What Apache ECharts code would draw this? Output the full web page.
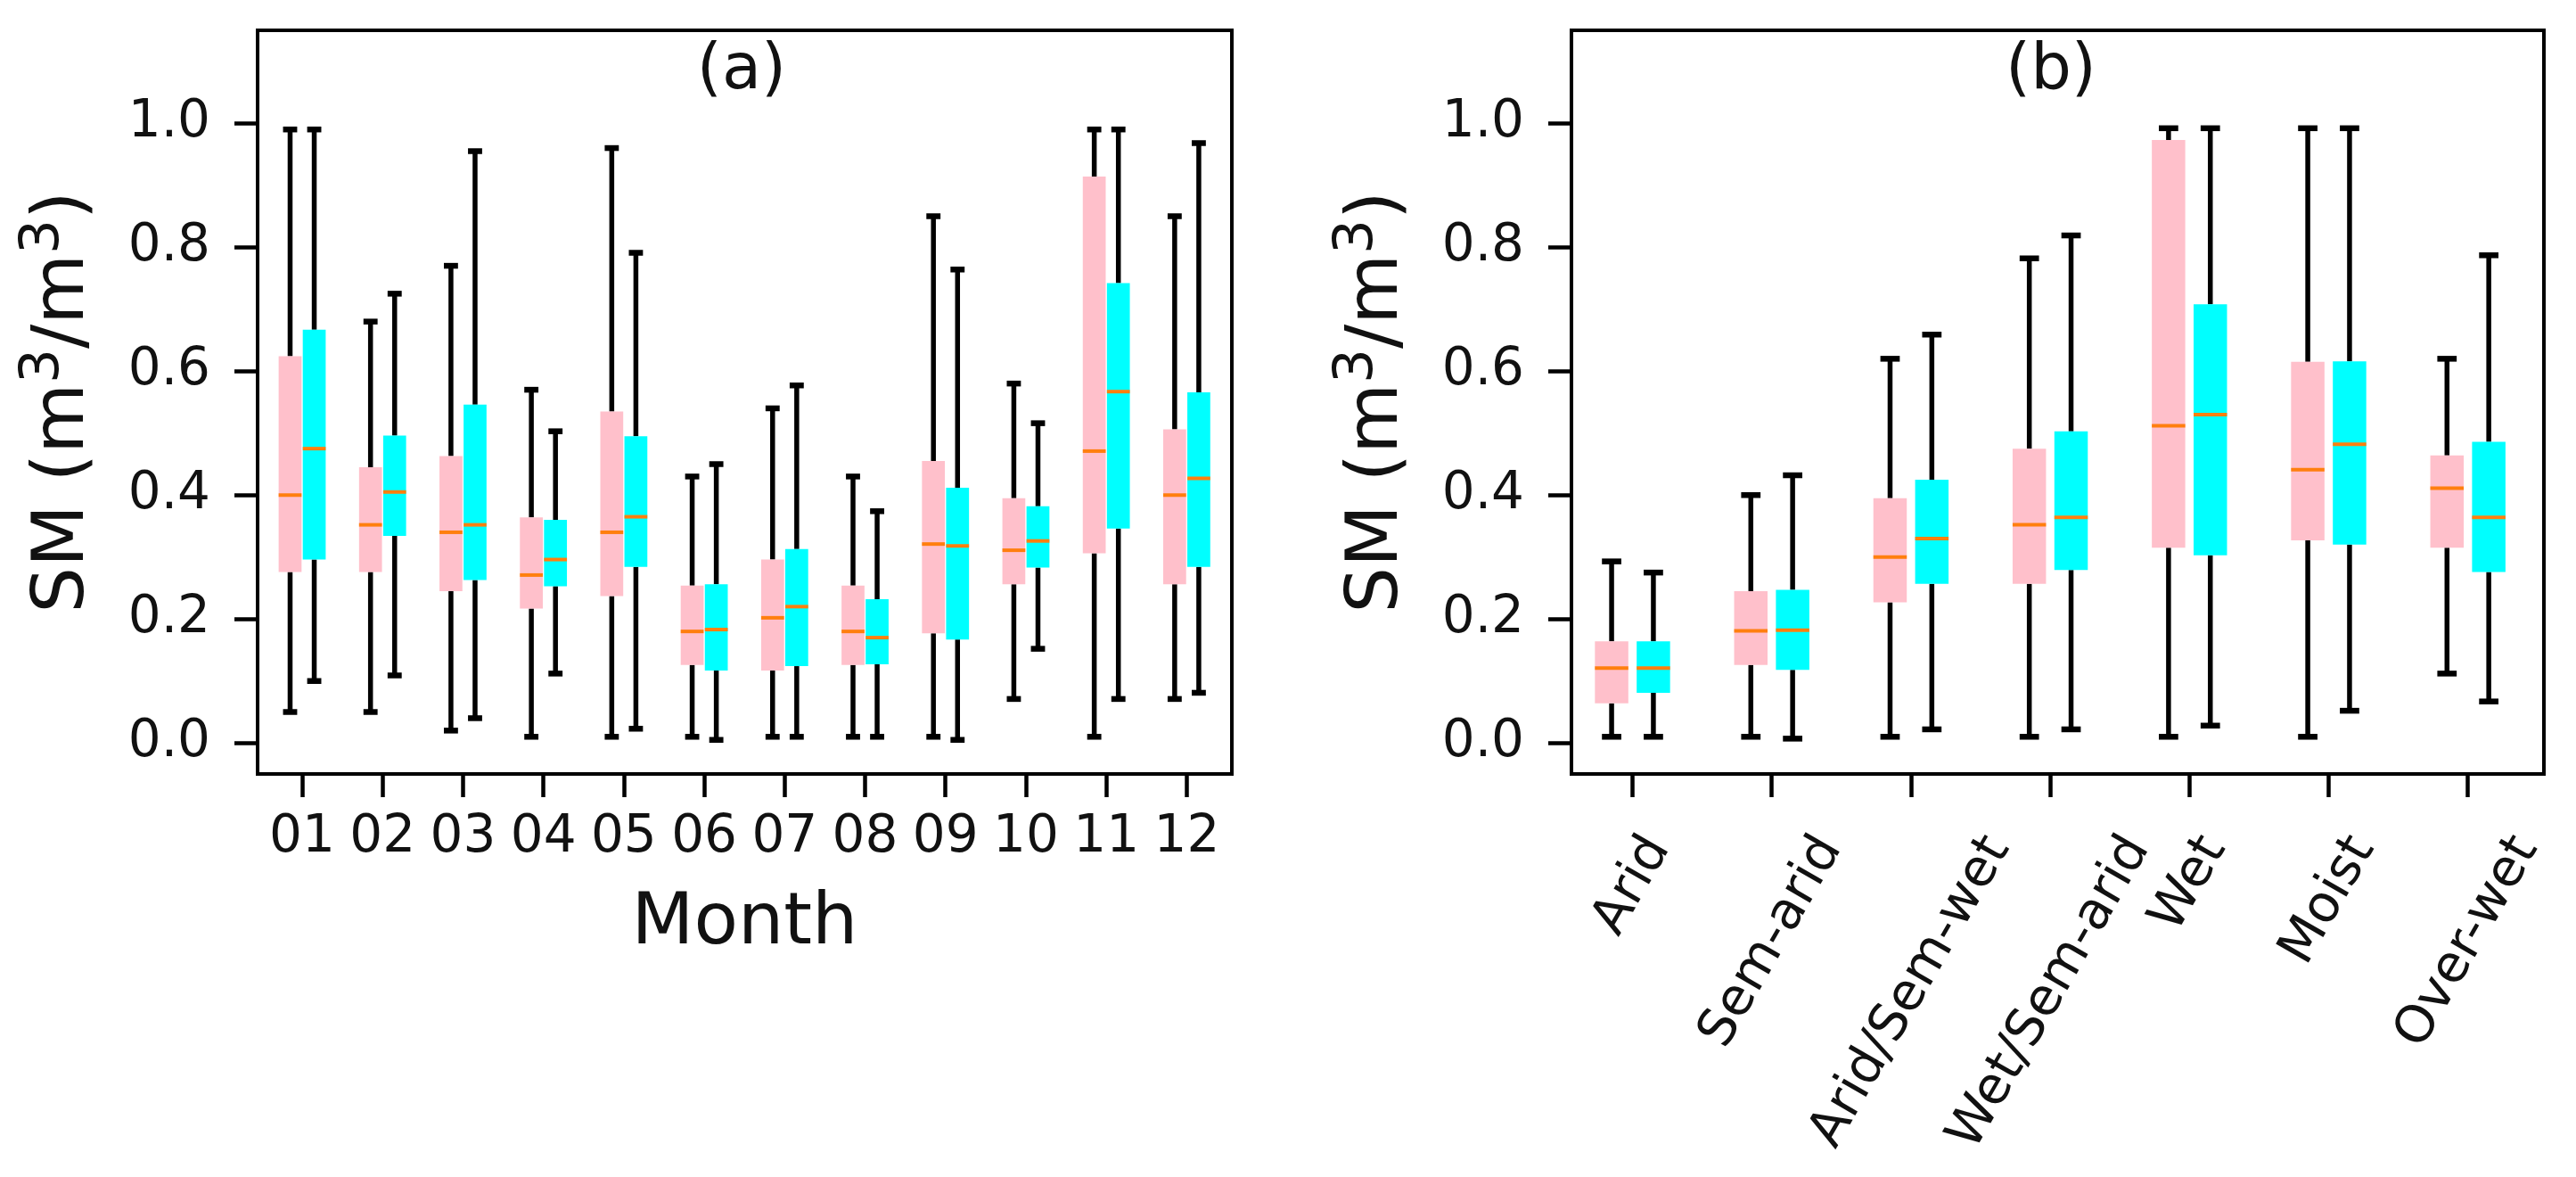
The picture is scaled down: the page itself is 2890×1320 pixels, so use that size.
<!DOCTYPE html>
<html>
<head>
<meta charset="utf-8">
<script src="https://cdn.jsdelivr.net/npm/echarts@6/dist/echarts.min.js"></script>
<style>
html,body{margin:0;padding:0;background:#fff;}
#chart{width:2890px;height:1320px;}
</style>
</head>
<body>
<div id="chart"></div>
<script>
// panel (a): month boxes
var months = ['01','02','03','04','05','06','07','08','09','10','11','12'];
var aPinkMin = [0.05,0.05,0.02,0.01,0.01,0.01,0.01,0.01,0.01,0.071,0.01,0.071];
var aPinkQ1  = [0.276,0.276,0.245,0.217,0.237,0.126,0.117,0.126,0.177,0.256,0.306,0.256];
var aPinkMed = [0.40,0.352,0.34,0.271,0.34,0.18,0.202,0.18,0.321,0.311,0.471,0.40];
var aPinkQ3  = [0.624,0.445,0.463,0.364,0.535,0.254,0.296,0.254,0.455,0.395,0.914,0.506];
var aPinkMax = [0.99,0.68,0.77,0.57,0.96,0.43,0.54,0.43,0.85,0.58,0.99,0.85];
var aCyanMin = [0.10,0.109,0.04,0.112,0.023,0.005,0.01,0.01,0.005,0.152,0.071,0.081];
var aCyanQ1  = [0.296,0.334,0.263,0.253,0.284,0.117,0.124,0.127,0.167,0.283,0.346,0.284];
var aCyanMed = [0.475,0.405,0.352,0.296,0.365,0.183,0.22,0.17,0.318,0.326,0.567,0.427];
var aCyanQ3  = [0.667,0.496,0.546,0.36,0.495,0.256,0.313,0.232,0.412,0.382,0.742,0.566];
var aCyanMax = [0.99,0.725,0.955,0.503,0.791,0.45,0.577,0.374,0.764,0.516,0.99,0.968];

// panel (b): climate zones
var zones = ['Arid','Sem-arid','Arid/Sem-wet','Wet/Sem-arid','Wet','Moist','Over-wet'];
var bPinkMin = [0.01,0.01,0.01,0.01,0.01,0.01,0.112];
var bPinkQ1  = [0.064,0.126,0.227,0.257,0.315,0.327,0.315];
var bPinkMed = [0.121,0.181,0.30,0.352,0.512,0.441,0.411];
var bPinkQ3  = [0.164,0.245,0.395,0.475,0.973,0.615,0.464];
var bPinkMax = [0.293,0.40,0.62,0.782,0.992,0.992,0.62];
var bCyanMin = [0.01,0.007,0.022,0.022,0.028,0.052,0.067];
var bCyanQ1  = [0.081,0.118,0.257,0.279,0.303,0.32,0.276];
var bCyanMed = [0.121,0.182,0.33,0.364,0.53,0.482,0.364];
var bCyanQ3  = [0.164,0.247,0.425,0.503,0.708,0.616,0.486];
var bCyanMax = [0.275,0.432,0.659,0.819,0.992,0.992,0.787];

var yTicks = [0, 0.2, 0.4, 0.6, 0.8, 1.0];

var FONT = 'DejaVu Sans';
var PINK = '#ffc0cb', CYAN = '#00ffff', MEDIAN = '#ff7f0e', INK = '#111';
var TICK_SIZE = 58, LABEL_SIZE = 81;

function boxData(mins, q1s, meds, q3s, maxs, shift) {
	return mins.map(function (v, i) {
		return [i + 1 + shift, v, q1s[i], meds[i], q3s[i], maxs[i]];
	});
}

// box + whiskers + caps + median, all placed through the axes
function boxRenderer(fill, boxW) {
	return function (params, api) {
		var x = api.value(0);
		var pMin = api.coord([x, api.value(1)]);
		var pQ1 = api.coord([x, api.value(2)]);
		var pMed = api.coord([x, api.value(3)]);
		var pQ3 = api.coord([x, api.value(4)]);
		var pMax = api.coord([x, api.value(5)]);
		var w = api.size([boxW, 0])[0];
		var cx = pQ1[0];
		var cap = w * 0.5 + 3;
		var wl = {stroke: '#000', lineWidth: 5.5};
		var cl = {stroke: '#000', lineWidth: 6.5};
		return {
			type: 'group',
			children: [
				{type: 'line', shape: {x1: cx, y1: pQ3[1], x2: cx, y2: pMax[1]}, style: wl},
				{type: 'line', shape: {x1: cx, y1: pQ1[1], x2: cx, y2: pMin[1]}, style: wl},
				{type: 'line', shape: {x1: cx - cap / 2, y1: pMax[1], x2: cx + cap / 2, y2: pMax[1]}, style: cl},
				{type: 'line', shape: {x1: cx - cap / 2, y1: pMin[1], x2: cx + cap / 2, y2: pMin[1]}, style: cl},
				{type: 'rect', shape: {x: cx - w / 2, y: pQ3[1], width: w, height: pQ1[1] - pQ3[1]}, style: {fill: fill}},
				{type: 'line', shape: {x1: cx - w / 2, y1: pMed[1], x2: cx + w / 2, y2: pMed[1]}, style: {stroke: MEDIAN, lineWidth: 4}}
			]
		};
	};
}

var measureCtx = document.createElement('canvas').getContext('2d');
measureCtx.font = TICK_SIZE + 'px "' + FONT + '"';

// rotated zone labels, centred under the tick like matplotlib does
function zoneLabelRenderer(params, api) {
	var p = api.coord([api.value(0), -0.05]);
	var text = zones[params.dataIndex];
	var w = measureCtx.measureText(text).width;
	return {
		type: 'text',
		x: p[0] + 0.25 * w,
		y: p[1] + 75,
		rotation: Math.PI / 3,
		style: {
			text: text,
			fontSize: TICK_SIZE,
			fontFamily: FONT,
			fill: INK,
			align: 'right',
			verticalAlign: 'middle'
		}
	};
}

function yAxisCfg(idx) {
	return {
		type: 'value', gridIndex: idx, min: -0.05, max: 1.15,
		axisLine: {show: true, onZero: false, lineStyle: {color: '#000', width: 4}},
		axisTick: {show: true, length: 26, customValues: yTicks, lineStyle: {color: '#000', width: 4.5}},
		axisLabel: {
			customValues: yTicks, margin: 53, fontSize: TICK_SIZE, fontFamily: FONT, color: INK,
			formatter: function (v) { return v.toFixed(1); }
		},
		splitLine: {show: false},
		name: 'SM (m{s|3}/m{s|3})',
		nameLocation: 'middle', nameRotate: 90, nameGap: 165,
		nameTextStyle: {
			fontSize: LABEL_SIZE, fontFamily: FONT, color: INK,
			rich: {s: {fontSize: 61, fontFamily: FONT, color: INK, padding: [0, 0, 44, 0]}}
		}
	};
}

var monthTicks = months.map(function (m, i) { return i + 1; });
var zoneTicks = zones.map(function (z, i) { return i + 1; });

var option = {
	animation: false,
	backgroundColor: '#fff',
	title: [
		{text: '(a)', left: 827, top: 39, textAlign: 'center',
			textStyle: {fontSize: 72, fontFamily: FONT, fontWeight: 'normal', color: INK}},
		{text: '(b)', left: 2296, top: 39, textAlign: 'center',
			textStyle: {fontSize: 72, fontFamily: FONT, fontWeight: 'normal', color: INK}}
	],
	grid: [
		{left: 289, top: 34, width: 1093, height: 834, show: true, borderColor: '#000', borderWidth: 4, outerBoundsMode: 'none'},
		{left: 1763, top: 34, width: 1091, height: 834, show: true, borderColor: '#000', borderWidth: 4, outerBoundsMode: 'none'}
	],
	xAxis: [
		{
			type: 'value', gridIndex: 0, min: 0.4457, max: 12.561,
			axisLine: {show: true, onZero: false, lineStyle: {color: '#000', width: 4}},
			axisTick: {show: true, length: 26, customValues: monthTicks, lineStyle: {color: '#000', width: 4.5}},
			axisLabel: {
				customValues: monthTicks, margin: 43, fontSize: TICK_SIZE, fontFamily: FONT, color: INK,
				formatter: function (v) { return months[Math.round(v) - 1]; }
			},
			splitLine: {show: false},
			name: 'Month', nameLocation: 'middle', nameGap: 128,
			nameTextStyle: {fontSize: LABEL_SIZE, fontFamily: FONT, color: INK}
		},
		{
			type: 'value', gridIndex: 1, min: 0.5615, max: 7.546,
			axisLine: {show: true, onZero: false, lineStyle: {color: '#000', width: 4}},
			axisTick: {show: true, length: 26, customValues: zoneTicks, lineStyle: {color: '#000', width: 4.5}},
			axisLabel: {show: false},
			splitLine: {show: false}
		}
	],
	yAxis: [yAxisCfg(0), yAxisCfg(1)],
	series: [
		{type: 'custom', xAxisIndex: 0, yAxisIndex: 0, renderItem: boxRenderer(PINK, 0.285),
			data: boxData(aPinkMin, aPinkQ1, aPinkMed, aPinkQ3, aPinkMax, -0.15)},
		{type: 'custom', xAxisIndex: 0, yAxisIndex: 0, renderItem: boxRenderer(CYAN, 0.285),
			data: boxData(aCyanMin, aCyanQ1, aCyanMed, aCyanQ3, aCyanMax, 0.15)},
		{type: 'custom', xAxisIndex: 1, yAxisIndex: 1, renderItem: boxRenderer(PINK, 0.24),
			data: boxData(bPinkMin, bPinkQ1, bPinkMed, bPinkQ3, bPinkMax, -0.15)},
		{type: 'custom', xAxisIndex: 1, yAxisIndex: 1, renderItem: boxRenderer(CYAN, 0.24),
			data: boxData(bCyanMin, bCyanQ1, bCyanMed, bCyanQ3, bCyanMax, 0.15)},
		{type: 'custom', xAxisIndex: 1, yAxisIndex: 1, clip: false, silent: true,
			renderItem: zoneLabelRenderer, data: zoneTicks.map(function (t) { return [t]; })}
	]
};

var myChart = echarts.init(document.getElementById('chart'));
myChart.setOption(option);
</script>
</body>
</html>
